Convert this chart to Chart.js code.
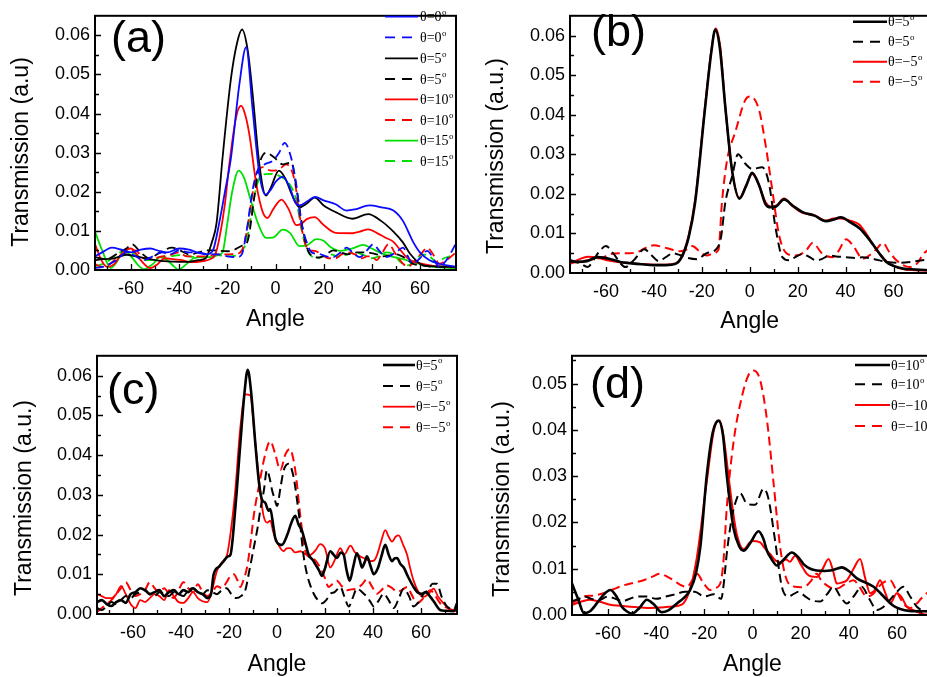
<!DOCTYPE html>
<html>
<head>
<meta charset="utf-8">
<script src="https://cdn.jsdelivr.net/npm/chart.js@4.4.0/dist/chart.umd.min.js"></script>
<style>
html,body{margin:0;padding:0;background:#fff;overflow:hidden;width:927px;height:677px;}
canvas{position:absolute;}
</style>
</head>
<body>
<canvas id="ca" width="470" height="340" style="left:0;top:0"></canvas>
<canvas id="cb" width="470" height="340" style="left:470px;top:0"></canvas>
<canvas id="cc" width="470" height="337" style="left:0;top:340px"></canvas>
<canvas id="cd" width="470" height="337" style="left:470px;top:340px"></canvas>
<script>
// ---------- DATA (angle in degrees, transmission in units of 1e-3 a.u.) ----------
const X_TICKS = [-60, -40, -20, 0, 20, 40, 60];
const Y_TICKS_ABC = [0, 0.01, 0.02, 0.03, 0.04, 0.05, 0.06];
const Y_TICKS_D = [0, 0.01, 0.02, 0.03, 0.04, 0.05];

// Panel (a)
const A_LABELS = ['θ=0', 'θ=0', 'θ=5', 'θ=5', 'θ=10', 'θ=10', 'θ=15', 'θ=15'];
const A_BLUE_X = [-75,-72,-68,-64,-60,-56,-52,-48,-45,-40,-36,-32,-28.5,-26,-23.3,-21,-18.5,-15,-12.2,-9.5,-6.7,-4.2,-2,0,3,6,8,10,13,16.5,20,25,29.5,33,39,44,49,53,57,60,64,68,75];
const A_BLUE_Y = [3.5,4.5,5.7,5.2,4.5,5.2,5.5,4.8,4.5,5.5,5.2,4.4,4.0,5.0,12.3,20,28.7,47.5,57,41,24.6,19.3,20.5,22.5,23.8,21,17.5,16.5,17.5,18.7,17.8,16.8,15.2,15.5,16.5,16,15.2,12.5,7.4,4.5,2.5,1.6,0.8];
const A_BLUE_D_X = [-75,-72,-69,-66,-62,-58,-55,-51,-47,-44,-40,-36,-32,-28,-24,-20,-16,-14,-12,-9.5,-7.5,-4.6,-1.2,1.5,3.75,6.5,8.6,10.7,12.8,15,18.3,21,24,27,29.6,32,35,38,40.6,43,46,50,53,55,57,60,63,66,68,71,75];
const A_BLUE_D_Y = [0.5,0.8,1.5,2.5,4.5,3.5,2.5,3.5,4.5,4.0,5.0,4.5,4.5,4.0,4.0,3.5,3.3,4.0,10,20.5,25.4,27,27.9,30,32.5,28.7,22,12.3,7.4,4.5,4.1,3.5,3.3,4.5,5.7,4.5,3.3,5.0,6.6,5.0,3.3,4.5,5.7,3.5,1.6,3.0,4.9,2.5,0.8,2.5,6.8];
const A_BLACK_X = [-75,-71,-67,-62,-58,-54,-50,-45,-40,-36,-32,-29,-26.5,-24.5,-22,-18.5,-16,-13.9,-11.5,-9.5,-6.7,-4,-2,1.4,4,7,10,13,16.3,20,25,32,38.5,44,49,53,56,61.4,68,75];
const A_BLACK_Y = [3.3,2.8,3.0,3.9,3.5,3.0,2.5,2.2,2.1,2.1,2.5,3.0,7,12,28.7,49,58,61.5,56,45,27,19,21,25.4,23.5,19,16,17,18.5,16.5,14.8,13.1,14.3,12.5,9.8,7,4.1,1.2,0.9,0.8];
const A_BLACK_D_X = [-75,-72,-69,-65,-62,-59.6,-56,-52.5,-48,-43,-39,-36,-32,-28.8,-25,-20,-17.8,-16.4,-14,-11.6,-8.75,-6.7,-3.9,-0.4,3,6.5,9.2,11.3,14.2,18.3,21,24,27,30,34,38,42,45,48,50,54,57,61,65,70,75];
const A_BLACK_D_Y = [2.5,2.8,3.0,4.5,5.5,6.6,4.5,3.0,4.5,5.7,4.8,4.0,4.5,5.0,5.0,4.8,5.0,5.4,6.2,7.4,18.9,27,30,28.7,27,27.5,18.9,10.6,4.1,3.2,4.0,5.0,4.5,4.0,4.5,4.5,4.0,3.5,3.8,4.0,3.0,1.6,1.2,0.8,0.8,0.8];
const A_RED_X = [-75,-72.5,-70,-67,-64,-60,-56,-52,-49,-46,-42,-39,-35,-30,-27,-25,-23.3,-21,-19.2,-16.4,-14.3,-12.5,-10.8,-8,-5.3,-3.3,-1,2.5,5.5,8.6,10.7,13,16.3,20,25,32,35,38.5,42,46,49,52,54.4,57,60,66,75];
const A_RED_Y = [6.6,2.7,0.8,1.5,4.1,5.5,2.5,0.5,1.5,3.0,2.7,2.5,2.0,2.3,2.8,4,8.2,17,27,39,42,39.5,34.4,22,14.8,13.3,15.5,18,15.5,11.5,11.8,13,13.5,11.5,9.5,9.4,9.8,10.4,9.5,8.2,7.2,5,3.3,2.2,1.7,1.0,0.8];
const A_RED_D_X = [-75,-72,-69,-66,-62,-58,-55,-51,-47,-43,-40,-37,-33,-29,-25,-20,-16.4,-14,-12.2,-8.75,-5.4,-2.5,-0.4,2,4.4,7.9,10,12,14,16.3,19,22,25,27.5,30,33,36,38,40,42,44,47,50,53,55,58,61,63,66,68,71,75];
const A_RED_D_Y = [1.5,0.8,1.5,3.0,4.5,5.0,3.0,3.0,3.5,4.0,4.5,3.5,3.5,3.5,4.0,4.0,4.1,5,9,22,26.3,25.5,25.4,26,27,23,14,7.4,5.0,4.9,4.0,3.0,3.0,4.0,4.5,4.0,3.0,3.5,3.5,2.5,4.0,6.6,4.0,1.6,0.8,2.5,4.5,5.7,3.5,1.6,2.5,4.5];
const A_GREEN_X = [-75,-72,-68.5,-66,-63,-60,-57,-54.6,-51,-48,-45,-42,-40.5,-37,-34,-30,-26.8,-24,-22,-20,-18,-15.3,-13,-10.8,-7.5,-3.9,-1,3,6,10,13,17,20,23,27,32,36.4,40,44.7,50,54.4,60,65.5,75];
const A_GREEN_Y = [9.8,5,0.5,2,5.0,3.5,1.2,0.2,1.5,3.3,2.5,0.8,0.1,1.5,3.0,3.3,3.3,3.8,4.5,12,20,25.4,23.5,18.9,12.3,8.2,8.3,10.3,9.5,6.1,6.3,7.9,7.5,5.8,4.9,5.5,6.4,5.5,4.1,3.2,2.5,1.5,0.8,0.5];
const A_GREEN_D_X = [-75,-72,-69,-66,-62,-58,-55,-52,-48,-44,-40,-36,-32,-28,-24,-20,-16.4,-14,-12.2,-8.75,-6,-2.5,2.4,5.8,8.6,10.7,13.4,17,20,23,26,30,33,36,40,43,46,49,52,55,58,61,64,67,70,75];
const A_GREEN_D_Y = [1.0,1.5,2.5,4.0,5.0,4.0,2.5,2.5,3.3,3.5,3.8,3.5,3.3,3.5,3.8,3.5,3.7,5,7,18.9,24.2,24.6,23.8,22,18,10.6,4.9,3.0,3.5,4.0,3.5,4.0,4.5,4.0,3.0,3.5,4.5,4.0,2.0,1.2,2.5,4.0,3.5,2.0,3.0,4.0];

// Panel (b)
const B_LABELS = ['θ=5', 'θ=5', 'θ=−5', 'θ=−5'];
const B_BLACK_X = [-75,-72,-68,-63.4,-58,-54,-50,-45,-40,-35,-31,-28.4,-25.5,-22.8,-18.6,-16,-14.4,-12.5,-10.2,-7.4,-4.3,-1.5,1,4,6.5,8.7,11,14.3,18,22,27,31.8,35,38,42,45.8,48.5,51.4,54,57,60,64,69,75];
const B_BLACK_Y = [3.2,2.8,3.0,4.0,3.5,2.8,2.5,2.2,2.0,2.0,2.3,4.0,9,17.8,42,56,61.5,57,42,26,18.8,22,25.3,22,17.5,16.6,16.8,18.6,17,15.4,14.5,13.1,13.5,14.1,12.8,11.3,9.5,7.2,5,2.8,1.8,1.1,0.9,0.7];
const B_BLACK_D_X = [-75,-71,-67.6,-65,-62.7,-60,-57,-54,-52,-48,-44,-41,-38,-35,-32,-29,-27,-22,-18,-14,-12,-10.2,-7.4,-4.9,-1.8,1,5.2,8,10.8,13.6,16.4,19,22,25,27.6,30,33.2,36,40,44,47,52,57,62,67,72,75];
const B_BLACK_D_Y = [3.0,2.5,1.5,3.5,5.5,6.8,5.0,2.5,1.5,3.5,6.0,4.5,3.0,4.0,5.0,4.5,4.0,3.5,5.0,6.0,9,17.8,24.3,30,27.6,26.3,26.7,22.7,11.3,4.0,3.2,4.0,4.8,4.0,3.2,3.5,4.4,4.2,4.0,3.8,4.0,3.5,2.8,2.6,2.8,3.2,3.4];
const B_RED_X = [-75,-71,-67.6,-63,-60,-55,-50,-45,-40,-35,-31,-28.4,-25.5,-22.8,-18.6,-16,-14.2,-12.3,-10.2,-7.4,-4.3,-1.5,1,4,6.5,8.7,11,14.3,18,22,27,31.8,35,38,42,45.8,48.5,51.4,54,57,60,64,69,75];
const B_RED_Y = [2.3,3.5,4.1,3.8,3.3,2.8,2.5,2.3,2.1,2.1,2.4,4.2,9.5,18.5,42.5,56.5,61.8,57,42,26,19,22.2,25,22,18,16.8,17,18.8,16.8,15.2,14.6,13.2,13.8,13.8,13.2,12.2,10,7.3,5,3.0,1.8,1.0,0.7,0.6];
const B_RED_D_X = [-75,-70,-65,-61,-58,-54,-50,-46,-43,-40,-36,-33,-29,-26,-24,-21,-18,-15,-13,-11.6,-9.5,-6,-1.8,0.3,3.8,6.6,9.4,12.2,15,19.2,23.4,26.2,30.4,34.6,37,40.2,43,47.2,50,52.8,55.6,58,61.2,64,66.8,70,72.4,75];
const B_RED_D_Y = [2.5,3.0,3.5,4.0,4.8,5.0,5.0,5.5,6.5,7.0,6.5,6.0,5.5,6.0,6.8,5.5,4.4,5.0,6.0,17.8,28.4,35.7,43.8,44.6,41.4,32.4,21,9.7,5.2,4.4,5.6,7.6,4.8,4.0,5.5,8.5,7.0,3.6,4.5,6.0,7.6,5.5,3.2,2.0,1.5,2.5,4.8,6.0];

// Panel (c)
const C_LABELS = ['θ=5', 'θ=5', 'θ=−5', 'θ=−5'];
const C_BLACK_X = [-75,-73,-71,-69,-67,-65,-63,-61,-59,-57,-55,-53,-51,-49,-47,-45,-43,-41,-39,-37,-35,-33,-31,-29,-27.5,-26.4,-24,-22.2,-20.5,-19.4,-17.4,-15.3,-13.5,-12.2,-10.8,-9,-7.5,-6.25,-4.9,-3.5,-2.8,-1.5,-0.7,1,2,4.2,6,7.6,9,10.4,12,13.2,15,16,17.5,18.75,20,22.2,23.5,25,26.5,27.8,29,30.3,31.8,33.3,34.5,35.4,36.5,37.5,39,40.3,42,43.5,45.1,46.5,47.9,49,50,51.5,52.8,54.5,56.9,58.5,60.4,62,63.9,65.5,68,70,73.6,75];
const C_BLACK_Y = [3.0,3.5,2.5,2.0,3.0,3.5,2.8,5.0,5.5,6.5,6.0,5.0,5.5,6.0,4.5,5.5,6.0,5.0,6.0,5.5,6.5,5.5,5.0,4.0,5.0,10,12,13.3,14.5,14.9,26.4,42.7,56,61.5,56,42.7,33,28.8,28,26,26.4,22,19,17.5,17.4,19.8,23,24.7,22.5,21,17.5,14.9,13.5,12.5,11,9.6,11.5,15.8,15,14.1,15.5,14.9,11,8.4,12,15.3,13.5,11.7,13,14.5,12,10,11.5,14.5,17.4,15,13.3,14,14.1,12.5,11.7,9.5,6.8,5.5,5.1,5.5,4.3,3.0,1.0,0.8,0.7,2.7];
const C_BLACK_D_X = [-75,-73,-71,-69,-67,-65,-63,-61,-59,-57,-55,-53,-51,-49,-47,-45,-43,-41,-39,-37,-35,-33,-31,-29,-27,-25,-23,-21,-19,-17,-15,-13.2,-11.5,-9.7,-8,-6.9,-5.5,-4.2,-3,-2.1,-1,0,1.5,2.8,4.9,6.9,8.5,9.7,11,12.5,14,15.3,17,18.75,20.5,22.2,24,26.4,28,29.9,31.5,33.3,35.5,37.5,39,40.3,42.5,44.4,46.5,48.6,50.5,52.8,55,56.9,59,61.1,63,64.8,66.7,68.5,70.8,73,75];
const C_BLACK_D_Y = [1.5,1.0,2.0,3.0,2.5,3.5,4.5,4.0,5.0,5.5,6.0,5.0,4.5,5.5,5.0,4.5,5.5,5.0,4.5,6.0,6.5,5.5,5.0,6.0,5.5,5.0,6.0,6.5,5.0,4.0,4.5,6.0,11,16.6,22,26.4,31,36.2,34,31.3,29,27.2,32,36.2,37.8,34.5,28,22.3,15,10,7,5.1,3.5,2.7,3.5,5.1,5.5,6.8,4.5,1.9,4.0,6.4,5.5,4.3,3.0,1.9,3.5,5.1,3.5,1.5,3.5,6.4,4.5,1.9,3.0,5.1,6.0,7.6,7.6,4.5,1.9,1.2,1.0];
const C_RED_X = [-75,-73,-71,-69,-67,-65,-63,-61,-59,-57,-55,-53,-51,-49,-47,-45,-43,-41,-39,-37,-35,-33,-31,-29,-27.5,-25,-23,-20.8,-19,-17.4,-15.3,-13.2,-11.1,-9.5,-8.3,-7,-5.6,-4,-2.8,-1.5,0,1.5,2.8,4,5.6,7.5,9.7,12,13.9,16,18,20,22.2,24,26.4,28,30.6,32.5,34.7,36.5,38.9,40.5,41.7,43.5,45.1,46.5,47.9,49.5,50.7,52.5,54.2,55.5,56.9,59,61.1,63,65.3,67,69.4,72,75];
const C_RED_Y = [5.0,4.5,4.0,4.0,5.0,7.0,5.0,2.5,1.5,3.5,3.0,4.0,5.0,4.5,3.5,6.0,4.5,3.0,2.8,4.0,5.5,4.0,3.2,3.0,5.0,10.9,13,14.9,22,31,46.8,55.3,55,46,38.6,31,24.7,23,23.5,20.5,18.2,16.5,15.8,16.5,16.6,15.5,15.8,15,14.9,16,17.6,16.5,11.7,13.5,16.6,15,17.2,15.5,14.5,14,13.3,13.5,14.9,18.5,21.1,19.5,18.2,19.5,19.8,17.5,14.9,11.5,8.4,5.5,4.3,5.0,6.4,4.5,2.7,1.2,0.7];
const C_RED_D_X = [-75,-73,-71,-69,-67,-65,-63,-61,-59,-57,-55,-53,-51,-49,-47,-45,-43,-41,-39,-37,-35,-33,-31,-29,-27,-25,-23,-21,-19.5,-18,-16.5,-15.3,-14,-12.5,-11,-9.7,-7.6,-4.9,-2.8,-0.7,1.4,3.5,5.3,7.6,9.7,11.8,13,14.6,16,18,20,21.5,23,25,27,29.2,31,33.3,35.5,37.5,39.5,41.7,43.5,45.8,48,50,52,54.2,56,58.3,61,63.9,66,68,71,75];
const C_RED_D_Y = [0.5,1.5,2.5,3.5,5.0,6.5,8.0,6.0,4.5,5.0,6.0,8.0,6.5,5.5,6.5,5.0,4.0,6.0,8.0,6.5,5.5,7.5,5.5,4.5,5.5,7.0,6.5,8.0,9.5,10,8.5,6.8,8.5,11.7,18,24.7,32,40.2,43.5,40.2,36.2,40.2,41.5,36.2,24.7,15.8,14.5,14.1,13.5,11.7,9.0,6.8,7.5,8.4,7.0,6.0,6.2,6.4,7.5,8.8,7.0,5.1,6.0,7.2,6.5,5.6,6.0,6.8,5.0,2.7,4.0,6.0,4.5,2.7,1.5,0.7];

// Panel (d)
const D_LABELS = ['θ=10', 'θ=10', 'θ=−10', 'θ=−10'];
const D_BLACK_X = [-75,-72.5,-70,-67.5,-64.7,-62,-59.1,-56.5,-54.3,-52,-50.1,-47,-43.9,-41,-37.7,-35,-31.4,-28.5,-25.9,-23.5,-21.7,-19,-16.5,-14.1,-12.3,-10.7,-7.9,-5.5,-3.7,-1,2.5,4.5,6,8,10.1,13,16.3,19,21.2,24,26.7,30,32.3,35,37.1,40,43.4,47,50.3,53,55.8,58.5,61.4,65,72.4,75];
const D_BLACK_Y = [6.8,3.5,0.4,0.8,2.5,4.3,5.4,4.0,1.8,0.7,0.3,1.5,3.3,2.3,0.6,1.0,2.5,3.7,5.4,9,14.6,30.2,39.5,42,39,30.2,18.8,14.8,13.9,15.5,18.1,16.5,13.9,12,10.7,12,13.5,12.5,11,10,9.6,9.5,9.6,10,10.3,9.5,7.9,7,6.1,4.8,3.3,2.0,1.3,0.9,0.8,0.8];
const D_BLACK_D_X = [-75,-72,-70,-67,-64,-60,-57,-54,-51,-48,-44,-40,-36,-32,-28,-24,-20,-16,-13,-12,-10.7,-8.6,-6.5,-5.1,-2.4,1.1,4.6,6.6,9.4,12.2,15,17,19.1,21.5,24,28.1,31,33.7,36.5,39.2,42,45.4,48.5,51.7,54.5,57.2,60,62.7,65.5,68.3,72.4,75];
const D_BLACK_D_Y = [3.0,3.5,4.0,3.5,3.2,4.0,3.5,3.0,3.5,4.0,4.0,3.5,4.0,4.5,5.0,5.0,4.0,4.5,3.5,6.5,13.2,21,25.2,26.3,24.1,23.8,27.3,25.2,16,6.1,4.0,4.5,5.0,4.2,3.3,2.9,4.5,6.1,4.0,2.5,4.0,6.1,3.5,1.1,1.8,3.3,5.0,6.1,4.0,1.8,0.8,0.8];
const D_RED_X = [-75,-71,-67.5,-63,-59.1,-55,-50.8,-46,-42.5,-38,-34.2,-31,-28.7,-26,-23.1,-19,-16,-13.7,-12,-10,-8,-6.5,-3.7,-0.3,3.2,5,7.3,9.5,11.5,14,15.5,17.7,20,22.6,24.5,26.7,29,31.6,33.5,35,37,39.2,42,44.7,46.8,48.9,51,53,55,57.2,60,62,64.1,67,72.4,75];
const D_RED_Y = [2.2,2.9,3.3,2.8,2.2,2.0,1.8,1.6,1.5,1.6,1.8,2.0,2.5,5.5,12.5,28.8,40,42,38.5,30.2,22,17.4,14.2,16,15.7,14.5,13.2,11.8,11.4,12,11.5,12.8,11,8.9,8.3,8.2,9.8,12.1,9.5,6.8,7.0,7.5,10,12.1,8,4.7,5.5,7.5,5.0,2.5,4.7,3.8,1.8,1.0,0.1,0.1];
const D_RED_D_X = [-75,-72,-70,-66,-61.9,-58,-53.6,-49,-45.3,-42,-38.4,-35.5,-32.8,-30,-27.3,-25,-23.1,-20.5,-17.6,-15.5,-13.4,-12,-10.7,-7.9,-4.4,-1.7,0.4,3.2,6,8.7,11.5,14.3,17.7,20,22.6,24.5,26.7,28.5,30.9,33,35,38,42,44.5,47.5,50,53,55,57.2,60,62.7,65.5,68.3,70,72.4,75];
const D_RED_D_Y = [2.5,3.5,4.0,4.2,4.7,5.5,6.4,7.0,7.5,8.2,8.9,8.3,7.5,6.5,6.1,7.5,8.9,7.0,5.4,5.8,6.8,12,23.1,37.3,47.2,51.8,52.8,50.7,42.2,28.8,14.6,7.5,6.1,6.0,6.4,7.5,8.9,7.5,6.4,5.8,5.7,6.5,7.5,6.0,4.0,4.5,6.4,7.2,7.5,5.0,2.5,1.5,2.5,3.5,4.7,5.5];

// ---------- helpers ----------
const SANS = '"Liberation Sans", Arial, sans-serif';
const SERIF = '"Liberation Serif", "Times New Roman", serif';
const BLUE = '#0a0aff', RED = '#ff0000', GREEN = '#00e000', BLACK = '#000000';

function series(label, xs, ys, color, width, dashed) {
  return {
    label: label,
    data: xs.map((x, i) => ({ x: x, y: ys[i] / 1000 })),
    borderColor: color,
    backgroundColor: color,
    borderWidth: width,
    borderDash: dashed ? [9, 5] : [],
    pointRadius: 0,
    fill: false,
    cubicInterpolationMode: 'monotone',
    tension: 0.4
  };
}

const decorPlugin = {
  id: 'decor',
  afterDatasetsDraw(chart, args, o) {
    const ctx = chart.ctx, a = chart.chartArea;
    const xs = chart.scales.x, ys = chart.scales.y;
    ctx.save();
    // frame
    ctx.strokeStyle = '#000'; ctx.lineWidth = 2; ctx.setLineDash([]);
    ctx.strokeRect(a.left, a.top, a.right - a.left, a.bottom - a.top);
    // inward ticks x
    ctx.lineWidth = 1.3;
    ctx.beginPath();
    for (let v = -70; v <= 70; v += 10) {
      const px = Math.round(xs.getPixelForValue(v)) + 0.5;
      const len = (v % 20 === 0) ? 6 : 4;
      ctx.moveTo(px, a.bottom); ctx.lineTo(px, a.bottom - len);
    }
    for (let k = 1; k * 0.005 < ys.max; k++) {
      const v = k * 0.005;
      const py = Math.round(ys.getPixelForValue(v)) + 0.5;
      const len = (k % 2 === 0) ? 6 : 4;
      ctx.moveTo(a.left, py); ctx.lineTo(a.left + len, py);
    }
    ctx.stroke();
    // panel label
    ctx.fillStyle = '#000';
    ctx.font = '45px ' + SANS; ctx.textAlign = 'left'; ctx.textBaseline = 'alphabetic';
    ctx.fillText(o.tag, o.tagX, o.tagY);
    // axis titles
    ctx.font = '23px ' + SANS; ctx.textAlign = 'center';
    ctx.fillText('Angle', xs.getPixelForValue(0), o.xTitleY);
    ctx.save();
    ctx.translate(o.yTitleX, o.yTitleY); ctx.rotate(-Math.PI / 2);
    ctx.textBaseline = 'middle';
    ctx.fillText(o.yTitle, 0, 0);
    ctx.restore();
    // legend
    const L = o.legend;
    chart.data.datasets.forEach((ds, i) => {
      const ry = L.rows[i];
      ctx.strokeStyle = ds.borderColor; ctx.lineWidth = ds.borderWidth;
      if (ds.borderDash.length) {
        ctx.setLineDash([10, 7]);
        ctx.beginPath(); ctx.moveTo(L.x1, ry); ctx.lineTo(L.x1 + 27, ry); ctx.stroke();
        ctx.setLineDash([]);
      } else {
        ctx.beginPath(); ctx.moveTo(L.x1, ry); ctx.lineTo(L.x2, ry); ctx.stroke();
      }
      ctx.fillStyle = '#000';
      ctx.font = '14px ' + SERIF; ctx.textAlign = 'left'; ctx.textBaseline = 'middle';
      ctx.fillText(ds.label, L.tx, ry + 1);
      const w = ctx.measureText(ds.label).width;
      ctx.font = '9px ' + SERIF;
      ctx.fillText('o', L.tx + w + 0.5, ry - 4);
    });
    ctx.restore();
  }
};

function makeChart(id, datasets, cfg) {
  new Chart(document.getElementById(id), {
    type: 'line',
    data: { datasets: datasets },
    options: {
      responsive: false,
      animation: false,
      events: [],
      layout: { padding: { left: 0, top: cfg.top, right: cfg.right, bottom: 0 } },
      plugins: { legend: { display: false }, tooltip: { enabled: false }, decor: cfg.decor },
      scales: {
        x: {
          type: 'linear', min: -75, max: 75,
          grid: { display: false, drawTicks: false },
          border: { display: false },
          afterBuildTicks: s => { s.ticks = X_TICKS.map(v => ({ value: v })); },
          afterFit: s => { s.height = cfg.xH; },
          ticks: { font: { family: SANS, size: 18 }, color: '#000', padding: 8, maxRotation: 0, autoSkip: false,
                   callback: v => String(v) }
        },
        y: {
          type: 'linear', min: 0, max: cfg.ymax,
          grid: { display: false, drawTicks: false },
          border: { display: false },
          afterBuildTicks: s => { s.ticks = cfg.yTicks.map(v => ({ value: v })); },
          afterFit: s => { s.width = cfg.yW; },
          ticks: { font: { family: SANS, size: 18 }, color: '#000', padding: 5, autoSkip: false,
                   callback: v => v.toFixed(2) }
        }
      }
    },
    plugins: [decorPlugin]
  });
}

// Panel (a)
makeChart('ca', [
  series(A_LABELS[0], A_BLUE_X, A_BLUE_Y, BLUE, 1.8, false),
  series(A_LABELS[1], A_BLUE_D_X, A_BLUE_D_Y, BLUE, 1.8, true),
  series(A_LABELS[2], A_BLACK_X, A_BLACK_Y, BLACK, 1.8, false),
  series(A_LABELS[3], A_BLACK_D_X, A_BLACK_D_Y, BLACK, 1.8, true),
  series(A_LABELS[4], A_RED_X, A_RED_Y, RED, 1.8, false),
  series(A_LABELS[5], A_RED_D_X, A_RED_D_Y, RED, 1.8, true),
  series(A_LABELS[6], A_GREEN_X, A_GREEN_Y, GREEN, 1.8, false),
  series(A_LABELS[7], A_GREEN_D_X, A_GREEN_D_Y, GREEN, 1.8, true)
], { top: 5, right: 14, xH: 70, yW: 95, ymax: 0.065, yTicks: Y_TICKS_ABC,
     decor: { tag: '(a)', tagX: 111, tagY: 52, xTitleY: 326, yTitleX: 22, yTitleY: 152, yTitle: 'Transmission (a.u)',
              legend: { x1: 385, x2: 418, tx: 420, rows: [16.7, 37.3, 58.3, 79, 99.3, 120, 140.7, 161] } } });

// Panel (b)
makeChart('cb', [
  series(B_LABELS[0], B_BLACK_X, B_BLACK_Y, BLACK, 2.6, false),
  series(B_LABELS[1], B_BLACK_D_X, B_BLACK_D_Y, BLACK, 2, true),
  series(B_LABELS[2], B_RED_X, B_RED_Y, RED, 2, false),
  series(B_LABELS[3], B_RED_D_X, B_RED_D_Y, RED, 2, true)
], { top: 7, right: 10.5, xH: 67, yW: 100, ymax: 0.065, yTicks: Y_TICKS_ABC,
     decor: { tag: '(b)', tagX: 121, tagY: 46, xTitleY: 328, yTitleX: 27, yTitleY: 156, yTitle: 'Transmission (a.u.)',
              legend: { x1: 383, x2: 417, tx: 418, rows: [21.7, 41.7, 61.7, 81.7] } } });

// Panel (c)
makeChart('cc', [
  series(C_LABELS[0], C_BLACK_X, C_BLACK_Y, BLACK, 2.6, false),
  series(C_LABELS[1], C_BLACK_D_X, C_BLACK_D_Y, BLACK, 2, true),
  series(C_LABELS[2], C_RED_X, C_RED_Y, RED, 1.8, false),
  series(C_LABELS[3], C_RED_D_X, C_RED_D_Y, RED, 2, true)
], { top: 9, right: 13, xH: 63, yW: 97, ymax: 0.065, yTicks: Y_TICKS_ABC,
     decor: { tag: '(c)', tagX: 107, tagY: 64, xTitleY: 331, yTitleX: 25, yTitleY: 158, yTitle: 'Transmission (a.u.)',
              legend: { x1: 383, x2: 415, tx: 416, rows: [25, 46, 66.7, 87.3] } } });

// Panel (d)
makeChart('cd', [
  series(D_LABELS[0], D_BLACK_X, D_BLACK_Y, BLACK, 2.6, false),
  series(D_LABELS[1], D_BLACK_D_X, D_BLACK_D_Y, BLACK, 2, true),
  series(D_LABELS[2], D_RED_X, D_RED_Y, RED, 2, false),
  series(D_LABELS[3], D_RED_D_X, D_RED_D_Y, RED, 2, true)
], { top: 12, right: 7, xH: 62, yW: 102, ymax: 0.056, yTicks: Y_TICKS_D,
     decor: { tag: '(d)', tagX: 120, tagY: 58, xTitleY: 331, yTitleX: 33, yTitleY: 159, yTitle: 'Transmission (a.u.)',
              legend: { x1: 385, x2: 420, tx: 421, rows: [25, 44.3, 65, 86] } } });
</script>
</body>
</html>
